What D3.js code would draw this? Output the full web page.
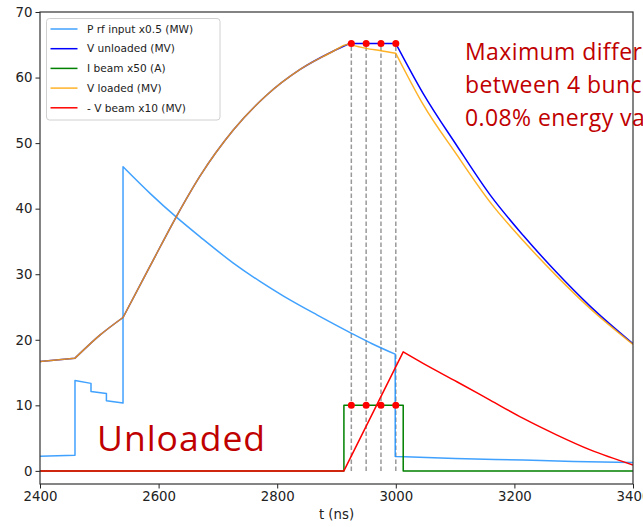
<!DOCTYPE html>
<html>
<head>
<meta charset="utf-8">
<script src="https://cdn.jsdelivr.net/npm/d3@7"></script>
<style>
  html, body { margin: 0; padding: 0; background: #fff; }
  svg { display: block; }
</style>
</head>
<body>
<div id="chart"></div>
<script>
// ---- data -------------------------------------------------------------
// A time listed twice marks a corner or a jump in the trace.

// Input RF power (x0.5, MW)
const pRfTime  = [2400, 2459, 2459, 2486, 2486, 2512, 2512, 2540, 2540, 2586, 2630, 2670, 2726, 2771, 2810, 2867, 2923, 2960, 2999, 2999, 3100, 3215, 3300, 3400];
const pRfValue = [2.25, 2.4, 13.8, 13.35, 12.1, 11.8, 10.7, 10.35, 46.4, 42.3, 38.7, 35.7, 31.7, 28.9, 26.7, 23.8, 21.1, 19.4, 17.8, 2.2, 1.9, 1.65, 1.45, 1.27];

// Unloaded accelerating voltage (MV)
const vUnlTime  = [2400, 2459, 2459, 2480, 2501, 2540, 2540, 2586, 2630, 2670, 2726, 2782, 2838, 2895, 2922, 2922, 3000, 3000, 3046, 3103, 3159, 3215, 3271, 3328, 3400];
const vUnlValue = [16.7, 17.2, 17.2, 19.0, 20.7, 23.4, 23.4, 31.3, 38.8, 45.0, 52.0, 57.3, 61.2, 64.05, 65.2, 65.2, 65.2, 65.2, 57.6, 49.6, 42.1, 35.9, 30.3, 25.1, 19.4];

// Beam current (x50, A)
const iBeamTime  = [2400, 2912.5, 2912.5, 3012.5, 3012.5, 3400];
const iBeamValue = [0, 0, 10, 10, 0, 0];

// Loaded accelerating voltage (MV)
const vLdTime  = [2400, 2459, 2459, 2480, 2501, 2540, 2540, 2586, 2630, 2670, 2726, 2782, 2838, 2895, 2912, 2912, 2920, 2920, 2950, 2975, 3000, 3000, 3012.5, 3012.5, 3046, 3103, 3159, 3215, 3271, 3328, 3400];
const vLdValue = [16.7, 17.2, 17.2, 19.0, 20.7, 23.4, 23.4, 31.3, 38.8, 45.0, 52.0, 57.3, 61.2, 64.05, 64.9, 64.9, 65.1, 65.1, 64.45, 64.1, 63.7, 63.7, 61.5, 61.5, 55.9, 48.2, 41.0, 35.1, 29.75, 24.75, 19.3];

// Beam-induced voltage (x10, MV, sign inverted)
const vBeamTime  = [2400, 2912.5, 2912.5, 3012.5, 3012.5, 3046, 3103, 3159, 3215, 3271, 3328, 3400];
const vBeamValue = [0, 0, 0, 18.15, 18.15, 16.4, 13.6, 10.8, 8.0, 5.5, 3.2, 0.9];

// Bunch arrival times (ns) and the levels marked at each bunch
const bunchTime = [2925, 2950, 2975, 3000];
const bunchVoltage = 65.2;
const bunchCurrent = 10;

const xTicks = [2400, 2600, 2800, 3000, 3200, 3400];
const yTicks = [0, 10, 20, 30, 40, 50, 60, 70];

const seriesNames  = ["P rf input x0.5 (MW)", "V unloaded (MV)", "I beam x50 (A)", "V loaded (MV)", "- V beam x10 (MV)"];
const seriesColors = ["#1e90ff", "#0000ff", "#008000", "#ffa500", "#ff0000"];

// ---- layout -----------------------------------------------------------
const W = 643, H = 527;
const plot = { left: 40, right: 633, top: 12, bottom: 484 };

const svg = d3.select("#chart").append("svg")
  .attr("width", W).attr("height", H)
  .style("font-family", "'DejaVu Sans', sans-serif");

const x = d3.scaleLinear().domain([2400, 3400]).range([plot.left, plot.right]);
const y = d3.scaleLinear().domain([-2, 70]).range([plot.bottom, plot.top]);

svg.append("clipPath").attr("id", "plot-clip")
  .append("rect")
  .attr("x", plot.left).attr("y", plot.top)
  .attr("width", plot.right - plot.left).attr("height", plot.bottom - plot.top);

const g = svg.append("g").attr("clip-path", "url(#plot-clip)");

// bunch markers: dashed verticals
g.selectAll("line.bunch").data(bunchTime).enter().append("line")
  .attr("class", "bunch")
  .attr("x1", d => x(d)).attr("x2", d => x(d))
  .attr("y1", y(0)).attr("y2", y(bunchVoltage))
  .attr("stroke", "#999").attr("stroke-width", 1.5)
  .attr("stroke-dasharray", "4.5,2.5");

// Smooth trace between corners; a repeated time starts a new smooth piece,
// joined to the previous one by a straight segment.
const smooth = d3.line().x(d => x(d[0])).y(d => y(d[1])).curve(d3.curveMonotoneX);
function tracePath(t, v) {
  const pts = d3.zip(t, v);
  const pieces = [];
  let cur = [pts[0]];
  for (let i = 1; i < pts.length; i++) {
    if (pts[i][0] === pts[i - 1][0]) { pieces.push(cur); cur = [pts[i]]; }
    else cur.push(pts[i]);
  }
  pieces.push(cur);
  return pieces.map((p, k) => {
    const s = smooth(p).replace(/Z$/, "");
    return k ? "L" + s.slice(1) : s;
  }).join("");
}

const series = [
  [pRfTime, pRfValue],
  [vUnlTime, vUnlValue],
  [iBeamTime, iBeamValue],
  [vLdTime, vLdValue],
  [vBeamTime, vBeamValue]
];
const opacities = [0.85, 1, 1, 0.85, 1];

series.forEach(([t, v], i) => {
  g.append("path")
    .attr("d", tracePath(t, v))
    .attr("fill", "none")
    .attr("stroke", seriesColors[i])
    .attr("stroke-opacity", opacities[i])
    .attr("stroke-width", 1.5)
    .attr("stroke-linejoin", "round");
});

// bunch markers: dots on voltage and current
const dots = bunchTime.map(t => [t, bunchVoltage]).concat(bunchTime.map(t => [t, bunchCurrent]));
g.selectAll("circle.bunch").data(dots).enter().append("circle")
  .attr("cx", d => x(d[0])).attr("cy", d => y(d[1]))
  .attr("r", 3.5).attr("fill", "#ff0000");

// ---- axes ---------------------------------------------------------------
const xAxis = svg.append("g")
  .attr("transform", `translate(0,${plot.bottom})`)
  .call(d3.axisBottom(x).tickValues(xTicks).tickFormat(d3.format("d")).tickSizeOuter(0).tickSize(4.5).tickPadding(3));
const yAxis = svg.append("g")
  .attr("transform", `translate(${plot.left},0)`)
  .call(d3.axisLeft(y).tickValues(yTicks).tickSizeOuter(0).tickSize(4.5).tickPadding(3));

[xAxis, yAxis].forEach(a => {
  a.select(".domain").remove();
  a.selectAll(".tick line").attr("stroke", "#222").attr("stroke-width", 1);
  a.selectAll(".tick text").attr("fill", "#222").style("font-size", "13.3px")
    .style("font-family", "'DejaVu Sans', sans-serif");
});

// frame
svg.append("rect")
  .attr("x", plot.left).attr("y", plot.top)
  .attr("width", plot.right - plot.left).attr("height", plot.bottom - plot.top)
  .attr("fill", "none").attr("stroke", "#333").attr("stroke-width", 1.2);

svg.append("text")
  .attr("x", (plot.left + plot.right) / 2).attr("y", 519)
  .attr("text-anchor", "middle")
  .style("font-size", "13.3px").attr("fill", "#222")
  .text("t (ns)");

// ---- legend -------------------------------------------------------------
const lg = svg.append("g").attr("transform", "translate(46.5,18.5)");
lg.append("rect")
  .attr("width", 173.5).attr("height", 101.5).attr("rx", 3)
  .attr("fill", "#fff").attr("fill-opacity", 0.8)
  .attr("stroke", "#d0d0d0").attr("stroke-width", 1);
seriesNames.forEach((name, i) => {
  const yy = 10.5 + i * 19.7;
  lg.append("line")
    .attr("x1", 4).attr("x2", 31).attr("y1", yy).attr("y2", yy)
    .attr("stroke", seriesColors[i]).attr("stroke-opacity", opacities[i]).attr("stroke-width", 1.5);
  lg.append("text")
    .attr("x", 40.5).attr("y", yy).attr("dy", "0.35em")
    .style("font-size", "10.6px").attr("fill", "#222")
    .text(name);
});

// ---- annotations ----------------------------------------------------------
svg.append("text")
  .attr("x", 97).attr("y", 450.5)
  .style("font-family", "'Open Sans', sans-serif").style("font-size", "35.5px")
  .style("letter-spacing", "1px")
  .attr("fill", "#c00000")
  .text("Unloaded");

const note = ["Maximum difference", "between 4 bunches", "0.08% energy variation"];
svg.append("g").selectAll("text").data(note).enter().append("text")
  .attr("x", 465).attr("y", (d, i) => 59.5 + i * 33)
  .style("font-family", "'Open Sans', sans-serif").style("font-size", "23px")
  .style("letter-spacing", "0.4px")
  .attr("fill", "#c00000")
  .text(d => d);
</script>
</body>
</html>
